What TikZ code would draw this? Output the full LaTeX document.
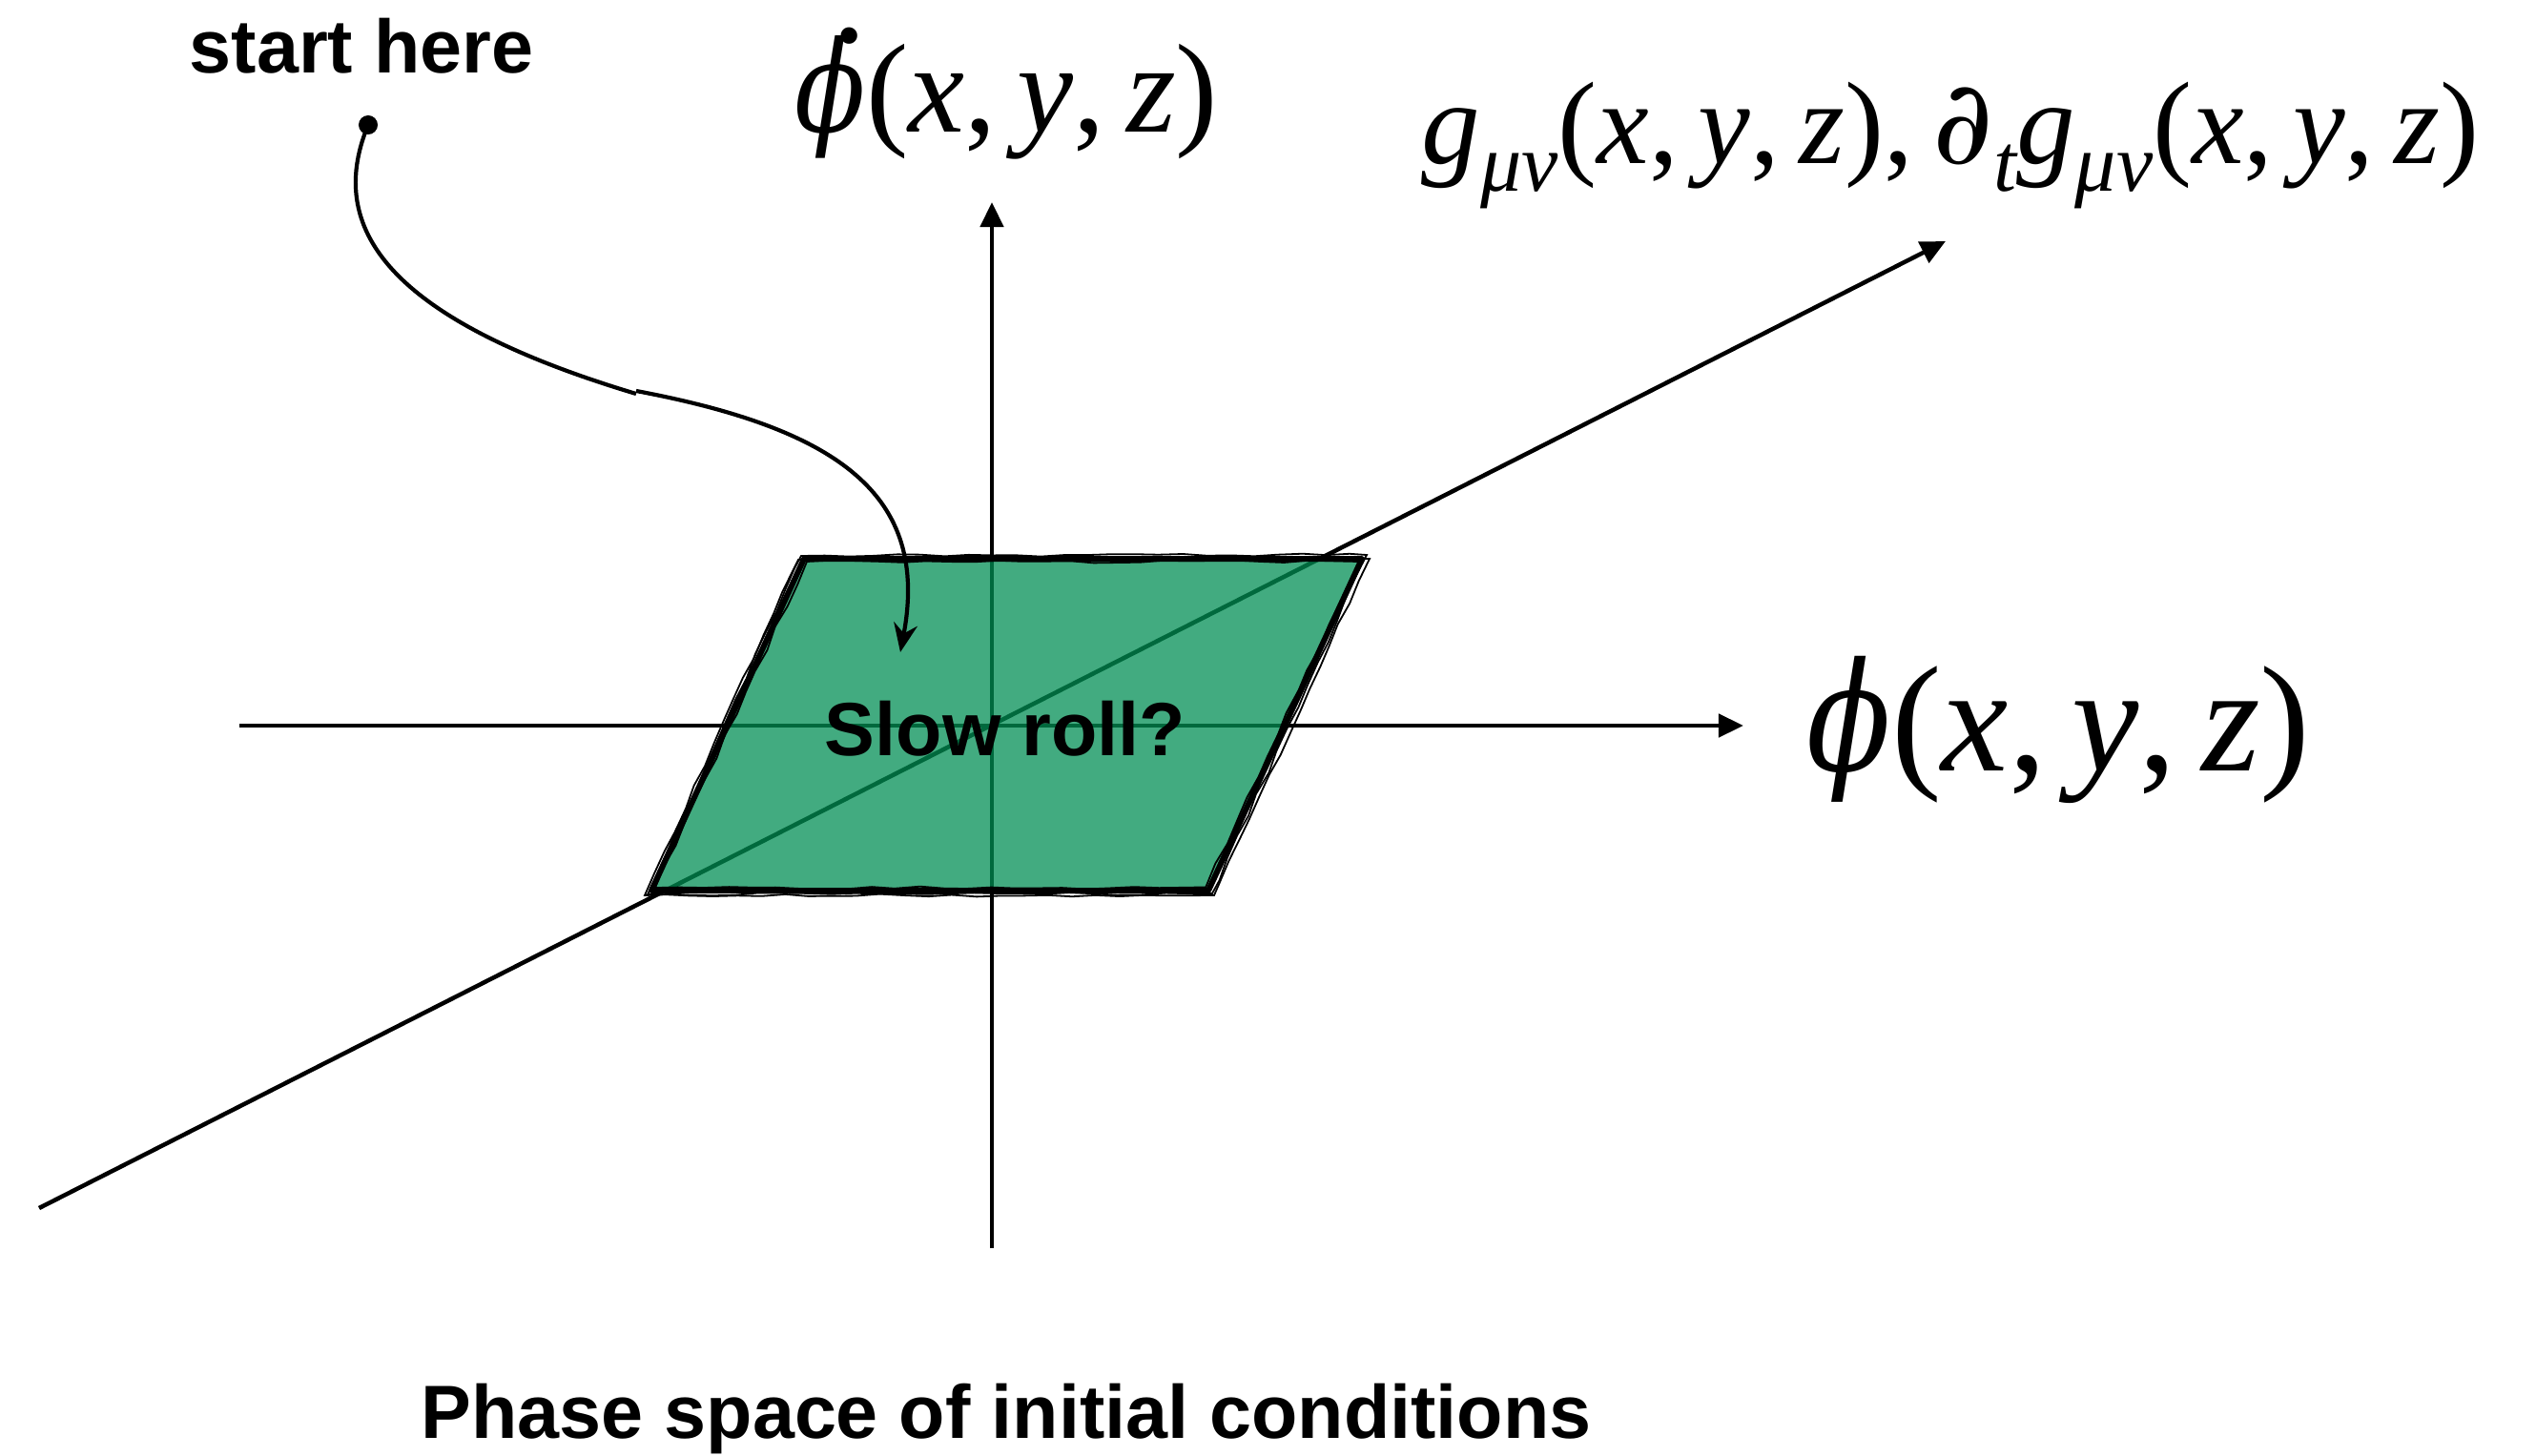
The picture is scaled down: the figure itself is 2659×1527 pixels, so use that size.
\documentclass[tikz,border=0pt]{standalone}
\usepackage{fontspec}
\setmainfont{Liberation Sans}
\newfontfamily\tms{Liberation Serif}
\newfontfamily\dvs{DejaVu Serif}
\usetikzlibrary{arrows.meta,decorations.pathmorphing}
\definecolor{slowgreen}{RGB}{0,142,83}
\newcommand{\ti}[1]{{\tms\itshape #1}}
\newcommand{\dv}[1]{{\dvs\itshape #1}}
\newcommand{\narrowphi}[1]{\scalebox{0.82}[1]{\dv{#1}}}
\newcommand{\dotphi}{\makebox[0pt][l]{\hspace{0.27em}\raisebox{0.70em}{{\dvs .}}}\narrowphi{ϕ}}
\newcommand{\xyz}{(\ti{x},\,\ti{y},\,\ti{z})}
\newcommand{\lowsub}[2]{\raisebox{-0.24em}{\fontsize{#1}{#1}\selectfont #2}}
\begin{document}
\begin{tikzpicture}[x=0.01cm,y=-0.01cm,
  axisline/.style={line width=0.045cm, -{Triangle[length=0.26cm,width=0.24cm]}},
  boldlbl/.style={inner sep=0pt, font=\bfseries\fontsize{22.5}{27}\selectfont},
  mathlbl/.style={inner sep=0pt, anchor=base west},
  sketch/.style={line width=0.018cm, decorate, decoration={random steps, segment length=0.25cm, amplitude=0.015cm}}]
\pgfmathsetseed{7}
\useasboundingbox (0,0) rectangle (2659,1527);

% axis end points
\coordinate (hL) at (251,761);
\coordinate (hR) at (1828,761);
\coordinate (vB) at (1040,1309);
\coordinate (vT) at (1040,212);
\coordinate (dL) at (41,1267);
\coordinate (dR) at (2040,253);

% parallelogram corners
\coordinate (TL) at (843,586);
\coordinate (TR) at (1428,586);
\coordinate (BR) at (1267,934);
\coordinate (BL) at (683,934);

% axes
\draw[axisline] (hL) -- (hR);
\draw[axisline] (vB) -- (vT);
\draw[axisline] (dL) -- (dR);

% green region
\fill[slowgreen, fill opacity=0.74] (TL) -- (TR) -- (BR) -- (BL) -- cycle;
\draw[line width=0.06cm, line join=round] (TL) -- (TR) -- (BR) -- (BL) -- cycle;
\draw[sketch] ([shift={(-3,-3)}]TL) -- ([shift={(5,-4)}]TR) -- ([shift={(4,3)}]BR) -- ([shift={(-4,4)}]BL) -- cycle;
\draw[sketch] ([shift={(3,3)}]TL) -- ([shift={(-3,3)}]TR) -- ([shift={(-3,-3)}]BR) -- ([shift={(4,-3)}]BL) -- cycle;
\draw[sketch] ([shift={(-6,1)}]TL) -- ([shift={(8,0)}]TR) -- ([shift={(6,5)}]BR) -- ([shift={(-7,5)}]BL) -- cycle;

% labels
\node[boldlbl, anchor=base west] (start) at (198,77) {start here};
\node[boldlbl, anchor=base] (slow) at (1054,792) {Slow roll?};
\node[boldlbl, anchor=base] (caption) at (1055,1508) {Phase space of initial conditions};
\node[mathlbl, font=\tms\fontsize{45}{54}\selectfont] (phi) at (1894,808) {\narrowphi{ϕ}\xyz};
\node[mathlbl, font=\tms\fontsize{37.8}{45}\selectfont] (phidot) at (833,138) {\dotphi\xyz};
\node[mathlbl, font=\tms\fontsize{35}{42}\selectfont] (metric) at (1490,171) {\ti{g}\lowsub{24.5}{\ti{μν}}\xyz,\,\dv{∂}\lowsub{24.5}{\ti{t}}\ti{g}\lowsub{24.5}{\ti{μν}}\xyz};

% start dot and path
\node[circle, fill=black, inner sep=0pt, minimum size=0.2cm] (dot) at (386,131) {};
\coordinate (kink) at (667,413);
\coordinate (tip) at (944,684);
\draw[line width=0.042cm] (dot.center) .. controls (345,230) and (390,330) .. (kink);
\draw[line width=0.042cm, -{Stealth[length=0.3cm,width=0.25cm,inset=0.1cm]}] ([shift={(0,-3)}]kink) .. controls (880,450) and (975,520) .. (tip);
\end{tikzpicture}
\end{document}
